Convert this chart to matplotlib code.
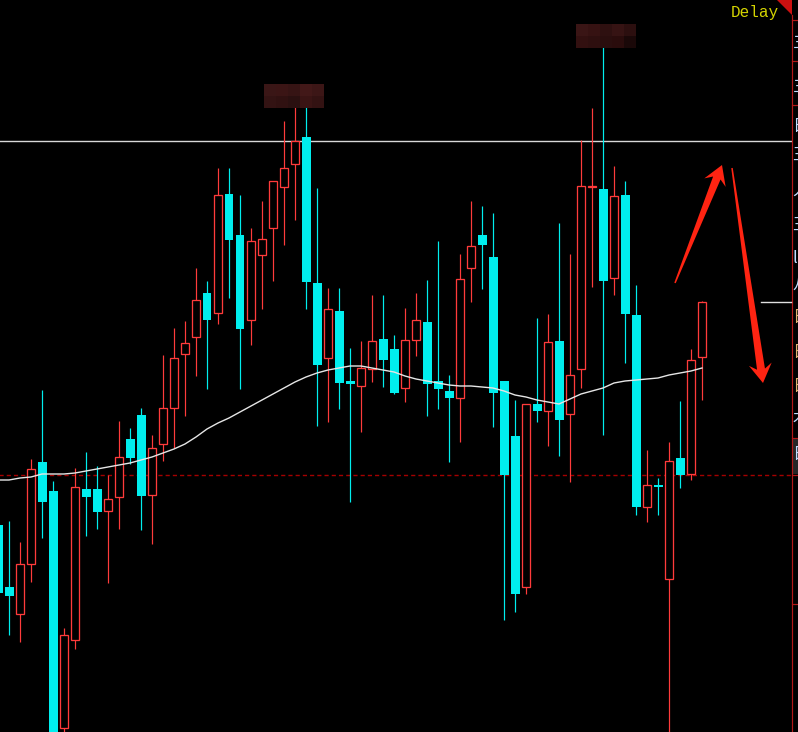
import numpy as np
import matplotlib
matplotlib.use('Agg')
import matplotlib.pyplot as plt
from matplotlib.patches import Polygon
from matplotlib.lines import Line2D
from matplotlib.transforms import IdentityTransform

W, H = 798, 732

# daily candles (price units are arbitrary)
opens = [2.75, 2.13, 1.86, 2.36, 3.38, 3.09, 0.72, 1.60, 3.11, 3.11,
         2.89, 3.03, 3.61, 3.85, 3.05, 3.56, 3.92, 4.46, 4.63, 5.07,
         4.87, 6.06, 5.65, 4.80, 5.45, 5.72, 6.13, 6.36, 6.63, 5.17,
         4.42, 4.89, 4.19, 4.14, 4.31, 4.61, 4.51, 4.12, 4.60, 4.78,
         4.19, 4.09, 4.02, 5.32, 5.65, 5.43, 4.19, 3.64, 2.13, 3.96,
         3.89, 4.59, 3.86, 4.31, 6.13, 6.11, 5.22, 6.05, 4.85, 2.93,
         3.15, 2.21, 3.42, 3.26, 4.43]
closes = [2.07, 2.04, 2.36, 3.31, 2.98, 0.55, 1.65, 3.13, 3.03, 2.88,
          3.01, 3.43, 3.42, 3.04, 3.52, 3.92, 4.42, 4.57, 5.00, 4.80,
          6.05, 5.60, 4.71, 5.59, 5.61, 6.19, 6.32, 6.59, 5.18, 4.35,
          4.91, 4.17, 4.16, 4.32, 4.59, 4.40, 4.07, 4.60, 4.80, 4.16,
          4.11, 4.02, 5.21, 5.54, 5.55, 4.07, 3.25, 2.06, 3.96, 3.89,
          4.58, 3.80, 4.25, 6.14, 6.14, 5.19, 6.04, 4.86, 2.93, 3.15,
          3.13, 3.39, 3.25, 4.40, 4.98]
highs = [2.80, 2.79, 2.58, 3.41, 4.10, 3.19, 1.72, 3.32, 3.48, 3.34,
         3.25, 3.79, 3.72, 3.92, 3.65, 4.45, 4.72, 4.79, 5.32, 5.19,
         6.32, 6.32, 6.05, 5.72, 5.99, 6.19, 6.79, 6.95, 7.00, 6.12,
         5.12, 5.12, 4.52, 4.59, 5.05, 5.05, 4.65, 4.92, 5.07, 5.20,
         5.59, 4.25, 5.46, 5.99, 5.94, 5.87, 4.19, 4.00, 3.96, 4.82,
         4.86, 5.77, 5.46, 6.60, 6.92, 7.60, 6.34, 6.19, 5.15, 3.50,
         3.22, 3.58, 3.99, 4.51, 4.99]
lows = [2.00, 1.65, 1.58, 2.18, 2.62, 0.40, 0.55, 1.51, 2.64, 2.71,
        2.17, 2.71, 3.36, 2.70, 2.56, 3.39, 3.52, 3.84, 4.24, 4.11,
        4.76, 5.02, 4.11, 4.55, 4.91, 5.19, 5.55, 5.80, 4.91, 3.74,
        3.78, 3.91, 2.98, 3.68, 4.18, 4.13, 4.06, 3.98, 4.44, 3.84,
        3.91, 3.38, 3.58, 4.98, 5.11, 3.73, 1.80, 1.88, 2.06, 3.78,
        3.54, 3.44, 3.18, 4.12, 5.13, 3.65, 5.05, 4.37, 2.85, 2.78,
        2.85, 0.55, 3.12, 3.20, 4.00]
ma = [3.20, 3.20, 3.22, 3.23, 3.26, 3.26, 3.26, 3.27, 3.29, 3.31,
      3.33, 3.35, 3.37, 3.40, 3.43, 3.47, 3.51, 3.56, 3.63, 3.71,
      3.77, 3.82, 3.88, 3.94, 4.00, 4.06, 4.12, 4.18, 4.23, 4.27,
      4.30, 4.32, 4.34, 4.34, 4.32, 4.30, 4.28, 4.24, 4.21, 4.19,
      4.17, 4.15, 4.14, 4.14, 4.13, 4.12, 4.09, 4.05, 4.03, 4.00,
      3.98, 3.96, 4.01, 4.06, 4.09, 4.12, 4.17, 4.19, 4.20, 4.21,
      4.22, 4.25, 4.27, 4.29, 4.32]
ref_high = 6.59   # white level line
prev_close = 3.25  # dashed level line

RED = '#ff3b3b'
CYAN = '#00eeee'
PX = 0.72  # one pixel in points

x = np.arange(len(opens)) - 1
o, c, h, l = map(np.array, (opens, closes, highs, lows))
up = c >= o

fig = plt.figure(figsize=(W / 100, H / 100), dpi=100, facecolor='black')
ax = fig.add_axes([0, 0, 1, 1])
ax.set_facecolor('black')
ax.set_xlim(-9 / 11, (W - 9) / 11)
ax.set_ylim(8 - H / 100, 8)
ax.axis('off')

x_panel = (792 - 9) / 11

# level lines
ax.hlines(ref_high, -1, x_panel, color='#d8d8d8', lw=1.0, zorder=1)
ax.hlines(prev_close, -1, x_panel, color='#a40000', lw=1.0,
          linestyles=(0, (3, 2.2)), zorder=1)

# wicks
ax.vlines(x[up], l[up], h[up], color=RED, lw=PX * 1.2, zorder=2)
ax.vlines(x[~up], l[~up], h[~up], color=CYAN, lw=PX * 1.2, zorder=2)

# bodies
ax.bar(x[up], np.maximum(c[up] - o[up], 0.01), bottom=o[up], width=8 / 11,
       facecolor='black', edgecolor=RED, linewidth=PX * 1.3, zorder=3)
ax.bar(x[~up], np.maximum(o[~up] - c[~up], 0.02), bottom=c[~up], width=9 / 11,
       color=CYAN, linewidth=0, zorder=3)

# moving average
ax.plot(x, ma, color='#e6e6e6', lw=1.0, zorder=4)


def px_line(x0, y0, x1, y1, color, lw=PX):
    fig.add_artist(Line2D([x0, x1], [H - y0, H - y1], color=color, lw=lw,
                          transform=IdentityTransform()))


def arrow(tail, tip, w0, w1, head_len, head_w):
    t = np.array(tail, float)
    p = np.array(tip, float)
    u = (p - t) / np.hypot(*(p - t))
    n = np.array([-u[1], u[0]])
    join = p - u * (head_len - 5)
    wing = p - u * head_len
    pts = [t + n * w0 / 2, join + n * w1 / 2, wing + n * head_w / 2, p,
           wing - n * head_w / 2, join - n * w1 / 2, t - n * w0 / 2]
    pts = [(q[0], H - q[1]) for q in pts]
    fig.add_artist(Polygon(pts, closed=True, facecolor='#ff2412',
                           edgecolor='none', transform=IdentityTransform()))


# hand-drawn arrows on the screenshot
arrow((675, 283), (722, 165), 1.5, 8, 19, 23)
arrow((732, 168), (763, 383), 1.5, 8, 19, 23)

# mosaic blur patches
def mosaic(blocks, x0, y0, bw, bh):
    arr = np.array([[matplotlib.colors.to_rgb(cc) for cc in row] for row in blocks])
    arr = np.repeat(np.repeat(arr, bh, axis=0), bw, axis=1)
    fig.figimage(arr, xo=x0, yo=H - y0 - arr.shape[0], origin='upper', zorder=5)


mosaic([['#3a1616', '#3b1515', '#361414', '#421818', '#3c1616'],
        ['#331313', '#301111', '#2a1010', '#3a1414', '#331212']], 264, 84, 12, 12)
mosaic([['#3a1515', '#361212', '#2e1010', '#361313', '#2c0f0f'],
        ['#321010', '#2e0f0f', '#2a0e0e', '#2a0c0c', '#1a0808']], 576, 24, 12, 12)
px_line(622, 41, 628, 41, '#ff3030', lw=1.5)

# right side panel chrome
fig.add_artist(Polygon([(777, H), (792, H), (792, H - 15)], closed=True,
                       facecolor='#cc1010', edgecolor='none',
                       transform=IdentityTransform()))
px_line(792, 15, 792, H, '#b01818', lw=PX * 1.2)
for yy in [20, 61, 105, 438, 475, 604]:
    px_line(792, yy, W, yy, '#b01818', lw=PX * 1.2)
fig.add_artist(Polygon([(793, H - 439), (W, H - 439), (W, H - 474), (793, H - 474)],
                       closed=True, facecolor='#262626', edgecolor='none',
                       transform=IdentityTransform()))
px_line(761, 302, 791, 302, '#e0e0e0', lw=1.0)

panel_chars = ['三', '三', '日', '王', '人', '王', 'l', '八', '日', '日', '日', '木', '日']
panel_y = [43, 87, 127, 155, 190, 225, 258, 285, 318, 352, 386, 418, 455]
panel_col = ['#c0dcff'] * 8 + ['#e0b070'] * 3 + ['#c0dcff'] * 2
for ch, yy, col in zip(panel_chars, panel_y, panel_col):
    fig.text(792.5 / W, 1 - yy / H, ch, color=col, fontsize=12, ha='left',
             va='center', family=['Noto Sans CJK SC', 'DejaVu Sans'])

fig.text(731 / W, 1 - 12 / H, 'Delay', color='#d4d400', fontsize=11.5,
         ha='left', va='center', family='Liberation Mono')

fig.savefig('out.png', dpi=100, facecolor='black')
